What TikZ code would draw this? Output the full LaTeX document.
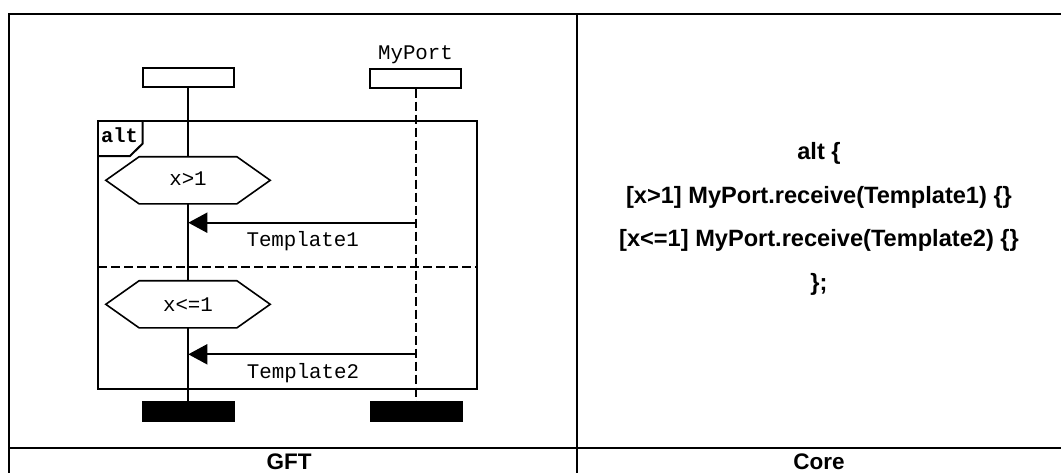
\documentclass[tikz,border=0pt]{standalone}
\usepackage{fontspec}
\setmainfont{Liberation Sans}
\newfontfamily\monof{Liberation Mono}
\usetikzlibrary{arrows.meta,calc}
\begin{document}
\begin{tikzpicture}[x=1pt,y=-1pt,
  tbl/.style={line width=2pt},
  headbox/.style={draw,line width=1.8pt,minimum width=91pt,minimum height=19pt,inner sep=0pt,fill=white},
  endbar/.style={fill=black,minimum width=93pt,minimum height=21pt,inner sep=0pt},
  life/.style={line width=2pt},
  dlife/.style={line width=1.6pt,dash pattern=on 9pt off 4pt},
  hexbox/.style={minimum width=164pt,minimum height=46.7pt,inner sep=0pt},
  hexline/.style={line width=1.6pt,fill=white},
  msg/.style={line width=2pt,-{Triangle[length=19pt,width=20pt]}},
  mtext/.style={font=\monof\fontsize{20.8}{24}\selectfont,anchor=base,inner sep=0pt},
  ctext/.style={font=\bfseries\fontsize{23.6}{28}\selectfont,anchor=base,inner sep=0pt},
  ltext/.style={font=\bfseries\fontsize{22.5}{27}\selectfont,anchor=base,inner sep=0pt},
  frameline/.style={line width=2pt}]
\useasboundingbox (0,0) rectangle (1061,472);
% table
\coordinate (tl) at (8.5,13.5);
\coordinate (tr) at (1062,13.5);
\coordinate (bl) at (8.5,473);
\coordinate (mt) at (576.5,13.5);
\coordinate (mb) at (576.5,473);
\coordinate (hl) at (8.5,447.7);
\coordinate (hr) at (1062,447.7);
\draw[tbl] (tr) -- (tl) -- (bl);
\draw[tbl] (mt) -- (mb);
\draw[tbl] (hl) -- (hr);
\node[ltext] (gft) at (289,469) {GFT};
\node[ltext] (core) at (819,469) {Core};
% core text
\node[ctext] (c1) at (819,159.3) {alt \{};
\node[ctext] (c2) at (819,203.3) {[x>1] MyPort.receive(Template1) \{\}};
\node[ctext] (c3) at (819,246.5) {[x<=1] MyPort.receive(Template2) \{\}};
\node[ctext] (c4) at (819,290) {\};};
% instances
\node[headbox] (h1) at (188.5,77.5) {};
\node[headbox] (h2) at (415.2,78.3) {};
\node[mtext] (portlbl) at (415.5,59.3) {MyPort};
\node[endbar] (e1) at (188,411.7) {};
\node[endbar] (e2) at (416,411.7) {};
% lifelines
\draw[life] (h1.south -| 188.3,0) -- (e1.north -| 188.3,0);
\draw[dlife] (h2.south -| 416,0) -- (e2.north -| 416,0);
% frame
\coordinate (f1) at (98.3,121);
\coordinate (f2) at (476.7,389.3);
\draw[frameline] (f1) rectangle (f2);
\draw[frameline] (98.3,156) -- (130,156) -- (142.7,143.5) -- (142.7,121);
\node[font=\monof\bfseries\fontsize{20.4}{24}\selectfont,anchor=base,inner sep=0pt] (altlbl) at (119.5,142) {alt};
% separator
\coordinate (s1) at (98.3,267.3);
\coordinate (s2) at (476.7,267.3);
\draw[line width=1.8pt,dash pattern=on 9pt off 4pt] (s1) -- (s2);
% hexagons
\node[hexbox] (x1) at (188,180.3) {};
\draw[hexline] (x1.west) -- ([xshift=33.3pt]x1.north west) -- ([xshift=-33.3pt]x1.north east) -- (x1.east) -- ([xshift=-33.3pt]x1.south east) -- ([xshift=33.3pt]x1.south west) -- cycle;
\node[mtext] (x1t) at (188,185) {x>1};
\node[hexbox] (x2) at (188,304.3) {};
\draw[hexline] (x2.west) -- ([xshift=33.3pt]x2.north west) -- ([xshift=-33.3pt]x2.north east) -- (x2.east) -- ([xshift=-33.3pt]x2.south east) -- ([xshift=33.3pt]x2.south west) -- cycle;
\node[mtext] (x2t) at (188,311.7) {x<=1};
% messages
\coordinate (m1s) at (416,222.7);
\coordinate (m1e) at (188.3,222.7);
\draw[msg] (m1s) -- (m1e);
\node[mtext] (t1) at (302.7,246.7) {Template1};
\coordinate (m2s) at (414.5,354.3);
\coordinate (m2e) at (188.3,354.3);
\draw[msg] (m2s) -- (m2e);
\node[mtext] (t2) at (303,378.3) {Template2};
\end{tikzpicture}
\end{document}
